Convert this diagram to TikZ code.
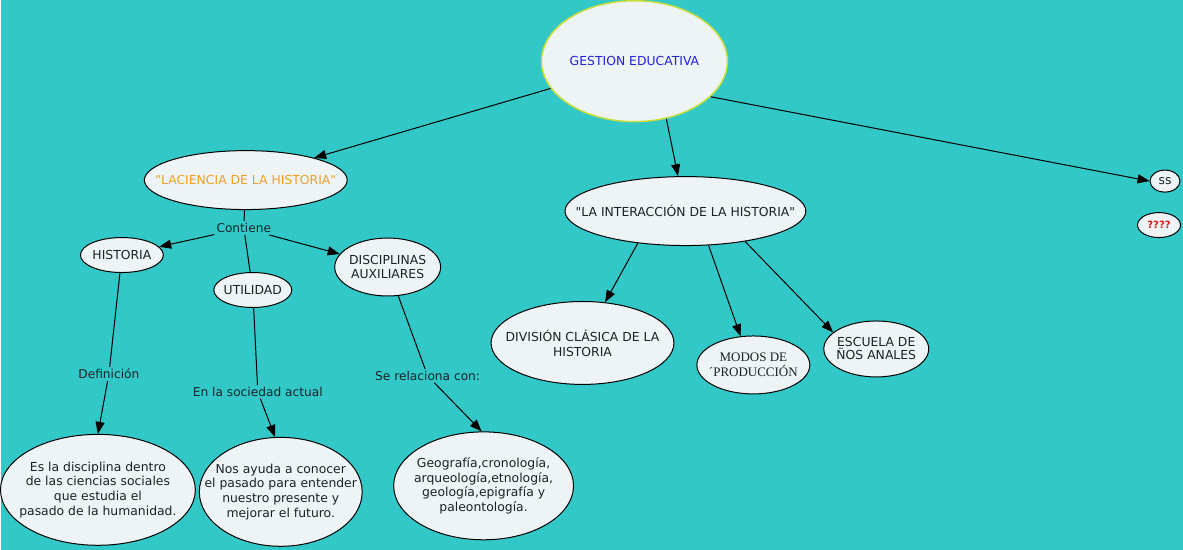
\documentclass[tikz,border=0pt]{standalone}
\usepackage{fontspec}
\setmainfont{DejaVu Sans}
\newfontfamily\rectas{DejaVu Sans}
\newfontfamily\modosfont{Liberation Serif}
\usetikzlibrary{arrows.meta, shapes.geometric}

\definecolor{fondo}{RGB}{51,200,200}
\definecolor{burbuja}{RGB}{238,244,245}
\definecolor{tinta}{RGB}{25,35,40}
\definecolor{azultit}{RGB}{35,35,215}
\definecolor{bordetit}{RGB}{200,222,60}
\definecolor{naranja}{RGB}{240,160,40}
\definecolor{rojo}{RGB}{225,25,25}

\begin{document}
\begin{tikzpicture}[
    x=1pt, y=-1pt,
    bub/.style={draw=black, line width=1pt, ellipse, fill=burbuja, inner sep=0pt},
    txt/.style={text=tinta, align=center, inner sep=0pt,
                font=\fontsize{12.4}{14.8}\selectfont},
    enl/.style={text=tinta, inner sep=2pt, font=\fontsize{12.2}{14}\selectfont},
    arr/.style={-{Triangle[length=12pt, width=9pt]}, line width=1pt},
    lin/.style={line width=1pt},
  ]
    \fill[fondo] (0,0) rectangle (1183,550);

    % raiz
    \node[bub, draw=bordetit, line width=1.5pt, minimum width=186pt, minimum height=121pt,
          label={[txt, text=azultit]center:GESTION EDUCATIVA}] (gestion) at (634,61) {};

    % rama izquierda
    \node[bub, minimum width=203pt, minimum height=59pt,
          label={[txt, text=naranja, font=\rectas\fontsize{12.4}{14.8}\selectfont]center:"LACIENCIA DE LA HISTORIA"}] (ciencia) at (245,180) {};
    \node[enl] (contiene) at (243,228) {Contiene};
    \node[bub, minimum width=83pt, minimum height=35pt,
          label={[txt]center:HISTORIA}] (historia) at (121,255) {};
    \node[bub, minimum width=78pt, minimum height=35pt,
          label={[txt]center:UTILIDAD}] (utilidad) at (252,290) {};
    \node[bub, minimum width=106pt, minimum height=58pt,
          label={[txt, font=\fontsize{12.4}{13.5}\selectfont]center:{DISCIPLINAS\\AUXILIARES}}] (disc) at (387,267) {};

    \node[enl] (defin) at (108,374) {Definición};
    \node[enl] (sociedad) at (257,392) {En la sociedad actual};
    \node[enl] (serel) at (427,376) {Se relaciona con:};

    \node[bub, minimum width=195pt, minimum height=111pt,
          label={[txt]center:{Es la disciplina dentro\\de las ciencias sociales\\que estudia el\\pasado de la humanidad.}}] (esdisc) at (97,490) {};
    \node[bub, minimum width=163pt, minimum height=109pt,
          label={[txt]center:{Nos ayuda a conocer\\el pasado para entender\\nuestro presente y\\mejorar el futuro.}}] (nos) at (280,492) {};
    \node[bub, minimum width=180pt, minimum height=108pt,
          label={[txt]center:{Geografía,cronología,\\arqueología,etnología,\\geología,epigrafía y\\paleontología.}}] (geo) at (483,486) {};

    % rama central
    \node[bub, minimum width=241pt, minimum height=69pt,
          label={[txt, font=\rectas\fontsize{12.4}{14.8}\selectfont]center:"LA INTERACCIÓN DE LA HISTORIA"}] (interac) at (685,211) {};
    \node[bub, minimum width=183pt, minimum height=83pt,
          label={[txt, font=\fontsize{12.4}{15}\selectfont]center:{DIVISIÓN CLÁSICA DE LA\\HISTORIA}}] (division) at (582,343) {};
    \node[bub, minimum width=113pt, minimum height=58pt,
          label={[txt, font=\modosfont\fontsize{13}{15}\selectfont]center:{MODOS DE\\´PRODUCCIÓN}}] (modos) at (753,365) {};
    \node[bub, minimum width=105pt, minimum height=56pt,
          label={[txt, font=\fontsize{12.4}{13}\selectfont]center:{ESCUELA DE\\ÑOS ANALES}}] (escuela) at (876,349) {};

    % rama derecha
    \node[bub, minimum width=30pt, minimum height=22pt,
          label={[txt]center:ss}] (ss) at (1165,181) {};
    \node[bub, minimum width=43pt, minimum height=25pt,
          label={[txt, text=rojo, font=\bfseries\fontsize{10}{11}\selectfont]center:????}] (dudas) at (1159,225) {};

    % conectores
    \draw[arr] (gestion.198) -- (ciencia.18);
    \draw[arr] (gestion.-61) -- (interac.102);
    \draw[arr] (gestion.-25) -- (ss.west);

    \draw[lin] (ciencia) -- (contiene);
    \draw[lin] (contiene) -- (utilidad);
    \draw[arr] (contiene) -- (historia);
    \draw[arr] (contiene) -- (disc);

    \draw[lin] (historia) -- (defin);
    \draw[arr] (defin) -- (esdisc.north);
    \draw[lin] (utilidad) -- (sociedad);
    \draw[arr] (sociedad) -- (nos.96);
    \draw[lin] (disc) -- (serel);
    \draw[arr] (serel) -- (geo.92);

    \draw[arr] (interac.-146) -- (division.61);
    \draw[arr] (interac.-56) -- (modos.114);
    \draw[arr] (interac.-27) -- (escuela.159);
\end{tikzpicture}
\end{document}
